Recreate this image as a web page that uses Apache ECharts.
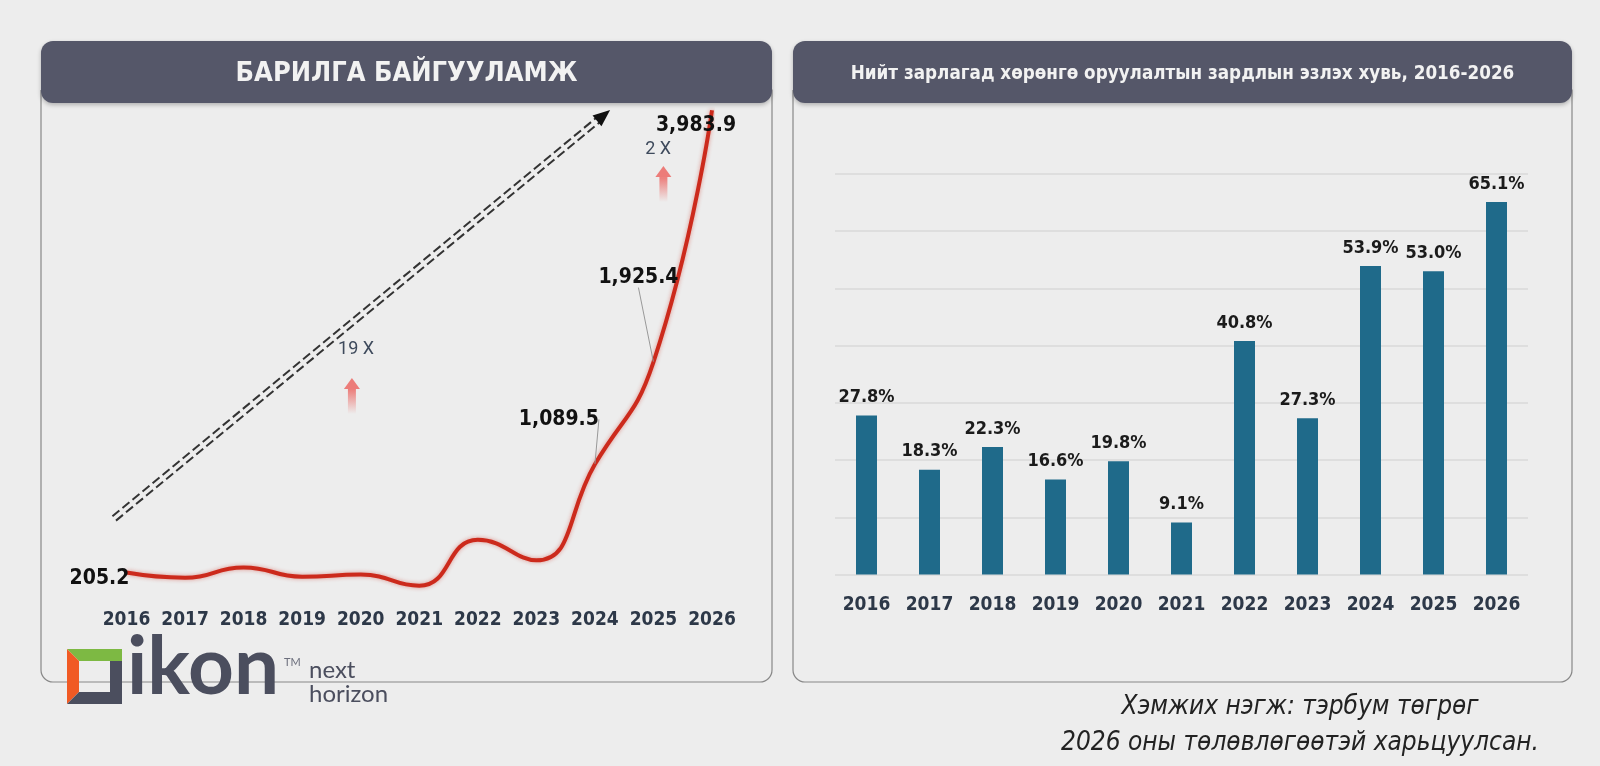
<!DOCTYPE html>
<html>
<head>
<meta charset="utf-8">
<script src="https://cdn.jsdelivr.net/npm/echarts@6/dist/echarts.min.js"></script>
<style>
  html, body { margin: 0; padding: 0; background: #ededed; }
  #main { width: 1600px; height: 766px; }
</style>
</head>
<body>
<div id="main"></div>
<script>
// --- data ---
const years = [2016, 2017, 2018, 2019, 2020, 2021, 2022, 2023, 2024, 2025, 2026];
const constructionValues = [205.2, 163, 247, 171, 188, 97, 472, 305, 1089.5, 1925.4, 3983.9];
const labelledYears = [2016, 2024, 2025, 2026];
const shareValues = [27.8, 18.3, 22.3, 16.6, 19.8, 9.1, 40.8, 27.3, 53.9, 53.0, 65.1];

const leftTitle = 'БАРИЛГА БАЙГУУЛАМЖ';
const rightTitle = 'Нийт зарлагад хөрөнгө оруулалтын зардлын эзлэх хувь, 2016-2026';
const footNotes = ['Хэмжих нэгж: тэрбум төгрөг', '2026 оны төлөвлөгөөтэй харьцуулсан.'];

// annotations, in data units of the left chart [year, value]
const trendArrow = [[2015.79, 647], [2024.26, 3986]];
const growthNotes = [
  {text: '19 X', at: [2019.92, 2032], arrowTop: [2019.85, 1796], arrowBottom: [2019.85, 1501]},
  {text: '2 X', at: [2025.08, 3667], arrowTop: [2025.17, 3528], arrowBottom: [2025.17, 3234]}
];

const narrow = "'Liberation Sans Narrow', 'DejaVu Sans Condensed', Roboto, sans-serif";
const fmt = v => v.toLocaleString('en-US', {minimumFractionDigits: 1, maximumFractionDigits: 1});

const pairs = years.map((y, i) => [y, constructionValues[i]]);
const labelled = pairs.filter(p => labelledYears.includes(p[0]));
// labels with a leader line vs. plain ones
const withLeader = labelled.filter(p => p[0] === 2024 || p[0] === 2025);
const plain = labelled.filter(p => p[0] === 2016 || p[0] === 2026);
const leaderShift = {2024: [-36, -45], 2025: [-15, -85]};
const plainShift = {2016: [-27, 6], 2026: [-16, 15]};

const chart = echarts.init(document.getElementById('main'));

const labelStyle = {
  show: true,
  position: 'inside',
  formatter: p => fmt(p.value[1]),
  fontFamily: narrow,
  fontWeight: 'bold',
  fontSize: 21,
  color: '#111'
};

chart.setOption({
  backgroundColor: '#ededed',
  animation: false,
  grid: [
    {left: 126.5, right: 888, top: 108.3, bottom: 168.4},
    {left: 835, right: 72, top: 174, bottom: 191.5}
  ],
  xAxis: [
    {
      gridIndex: 0, type: 'value', min: 2016, max: 2026, interval: 1,
      axisLine: {show: false}, axisTick: {show: false}, splitLine: {show: false},
      axisLabel: {margin: 13, fontFamily: narrow, fontWeight: 'bold', fontSize: 19, color: '#2d3848', formatter: v => String(v)}
    },
    {
      gridIndex: 1, type: 'category', data: years.map(String),
      axisLine: {show: false}, axisTick: {show: false},
      axisLabel: {interval: 0, margin: 21, fontFamily: narrow, fontWeight: 'bold', fontSize: 19, color: '#2d3848'}
    }
  ],
  yAxis: [
    {gridIndex: 0, type: 'value', min: 0, max: 4000, show: false},
    {
      gridIndex: 1, type: 'value', min: 0, max: 70, interval: 10,
      axisLine: {show: false}, axisTick: {show: false}, axisLabel: {show: false},
      splitLine: {lineStyle: {color: '#d8d8d8', width: 1.5}}
    }
  ],
  series: [
    {
      type: 'line', xAxisIndex: 0, yAxisIndex: 0,
      data: pairs, smooth: true, showSymbol: false, z: 3,
      lineStyle: {color: '#cc2a1c', width: 4, shadowBlur: 4, shadowColor: 'rgba(204,42,28,0.45)'}
    },
    {
      type: 'scatter', xAxisIndex: 0, yAxisIndex: 0, z: 4,
      data: withLeader, symbolSize: 1, itemStyle: {color: 'rgba(0,0,0,0)', opacity: 1},
      label: labelStyle,
      labelLine: {show: true, lineStyle: {color: '#999', width: 1}},
      labelLayout: p => ({dx: leaderShift[withLeader[p.dataIndex][0]][0], dy: leaderShift[withLeader[p.dataIndex][0]][1]})
    },
    {
      type: 'scatter', xAxisIndex: 0, yAxisIndex: 0, z: 4,
      data: plain, symbolSize: 1, itemStyle: {color: 'rgba(0,0,0,0)', opacity: 1},
      label: labelStyle,
      labelLayout: p => ({dx: plainShift[plain[p.dataIndex][0]][0], dy: plainShift[plain[p.dataIndex][0]][1]})
    },
    {
      type: 'bar', xAxisIndex: 1, yAxisIndex: 1,
      data: shareValues, barWidth: 21,
      itemStyle: {color: '#1f6a8a'},
      label: {
        show: true, position: 'top', distance: 9,
        formatter: p => p.value.toFixed(1) + '%',
        fontFamily: narrow, fontWeight: 'bold', fontSize: 18, color: '#1b1b1b'
      }
    }
  ]
});

// --- decorations: panels, titles, arrows, logo ---
const px = v => chart.convertToPixel({gridIndex: 0}, v);
const g = [];

function panel(x, w, title, size) {
  g.push({type: 'rect', z: -10, shape: {x: x, y: 90, width: w, height: 592, r: [0, 0, 12, 12]},
    style: {fill: '#ededed', stroke: '#888', lineWidth: 1.2}});
  g.push({type: 'rect', z: -9, shape: {x: x, y: 41, width: w, height: 62, r: 12},
    style: {fill: '#555769', shadowBlur: 4, shadowOffsetY: 2, shadowColor: 'rgba(0,0,0,0.25)'}});
  g.push({type: 'text', z: -8, x: x + w / 2, y: 74,
    style: {text: title, align: 'center', verticalAlign: 'middle', fill: '#f2f2f2',
      font: 'bold ' + size + 'px ' + narrow}});
}
panel(41, 731, leftTitle, 27);
panel(793, 779, rightTitle, 18.7);

// dashed double trend arrow
const a = px(trendArrow[0]), b = px(trendArrow[1]);
const len = Math.hypot(b[0] - a[0], b[1] - a[1]);
const u = [(b[0] - a[0]) / len, (b[1] - a[1]) / len];
const n = [-u[1], u[0]];
const end = [b[0] - u[0] * 12, b[1] - u[1] * 12];
[-2.8, 2.8].forEach(o => {
  g.push({type: 'line', z: 1, shape: {x1: a[0] + n[0] * o, y1: a[1] + n[1] * o, x2: end[0] + n[0] * o, y2: end[1] + n[1] * o},
    style: {stroke: '#333', lineWidth: 2, lineDash: [9, 4]}});
});
g.push({type: 'polygon', z: 1, shape: {points: [
  b,
  [b[0] - u[0] * 17 + n[0] * 7, b[1] - u[1] * 17 + n[1] * 7],
  [b[0] - u[0] * 17 - n[0] * 7, b[1] - u[1] * 17 - n[1] * 7]
]}, style: {fill: '#111'}});

// growth notes with pink arrows
growthNotes.forEach(gn => {
  const t = px(gn.at), top = px(gn.arrowTop), bot = px(gn.arrowBottom);
  g.push({type: 'text', z: 1, x: t[0], y: t[1],
    style: {text: gn.text, align: 'center', verticalAlign: 'middle', fill: '#3e4a5c', font: '18px Roboto, sans-serif'}});
  g.push({type: 'polygon', z: 1, shape: {points: [[top[0], top[1]], [top[0] - 8, top[1] + 11], [top[0] + 8, top[1] + 11]]},
    style: {fill: '#ec7c79'}});
  g.push({type: 'rect', z: 1, shape: {x: top[0] - 4, y: top[1] + 11, width: 8, height: bot[1] - top[1] - 11},
    style: {fill: new echarts.graphic.LinearGradient(0, 0, 0, 1, [
      {offset: 0, color: 'rgba(236,124,121,1)'},
      {offset: 1, color: 'rgba(236,124,121,0)'}
    ])}});
});

// foot notes
footNotes.forEach((t, i) => {
  g.push({type: 'text', x: 1300, y: 707 + i * 36,
    style: {text: t, align: 'center', verticalAlign: 'middle', fill: '#222', font: 'italic 26px ' + narrow}});
});

// logo
const lx = 67, ly = 649, ls = 55, lw = 12;
g.push({type: 'polygon', z: 5, shape: {points: [[lx, ly], [lx + ls, ly], [lx + ls, ly + lw], [lx + lw, ly + lw]]}, style: {fill: '#7db943'}});
g.push({type: 'polygon', z: 5, shape: {points: [[lx, ly], [lx + lw, ly + lw], [lx + lw, ly + ls - lw], [lx, ly + ls]]}, style: {fill: '#f15a24'}});
g.push({type: 'polygon', z: 5, shape: {points: [[lx + ls, ly + lw], [lx + ls, ly + ls], [lx, ly + ls], [lx + lw, ly + ls - lw], [lx + ls - lw, ly + ls - lw], [lx + ls - lw, ly + lw]]}, style: {fill: '#4b4e5e'}});
g.push({type: 'text', z: 5, x: 127, y: 708, style: {text: 'ikon', verticalAlign: 'bottom', fill: '#4b4e5e', font: 'bold 80px Lato, sans-serif'}});
g.push({type: 'text', z: 5, x: 284, y: 657, style: {text: 'TM', fill: '#6b6e7c', font: '11px Lato, sans-serif'}});
g.push({type: 'text', z: 5, x: 309, y: 670, style: {text: 'next', verticalAlign: 'middle', fill: '#4b4e5e', font: '24px Lato, sans-serif'}});
g.push({type: 'text', z: 5, x: 309, y: 694, style: {text: 'horizon', verticalAlign: 'middle', fill: '#4b4e5e', font: '24px Lato, sans-serif'}});

chart.setOption({graphic: g});
</script>
</body>
</html>
